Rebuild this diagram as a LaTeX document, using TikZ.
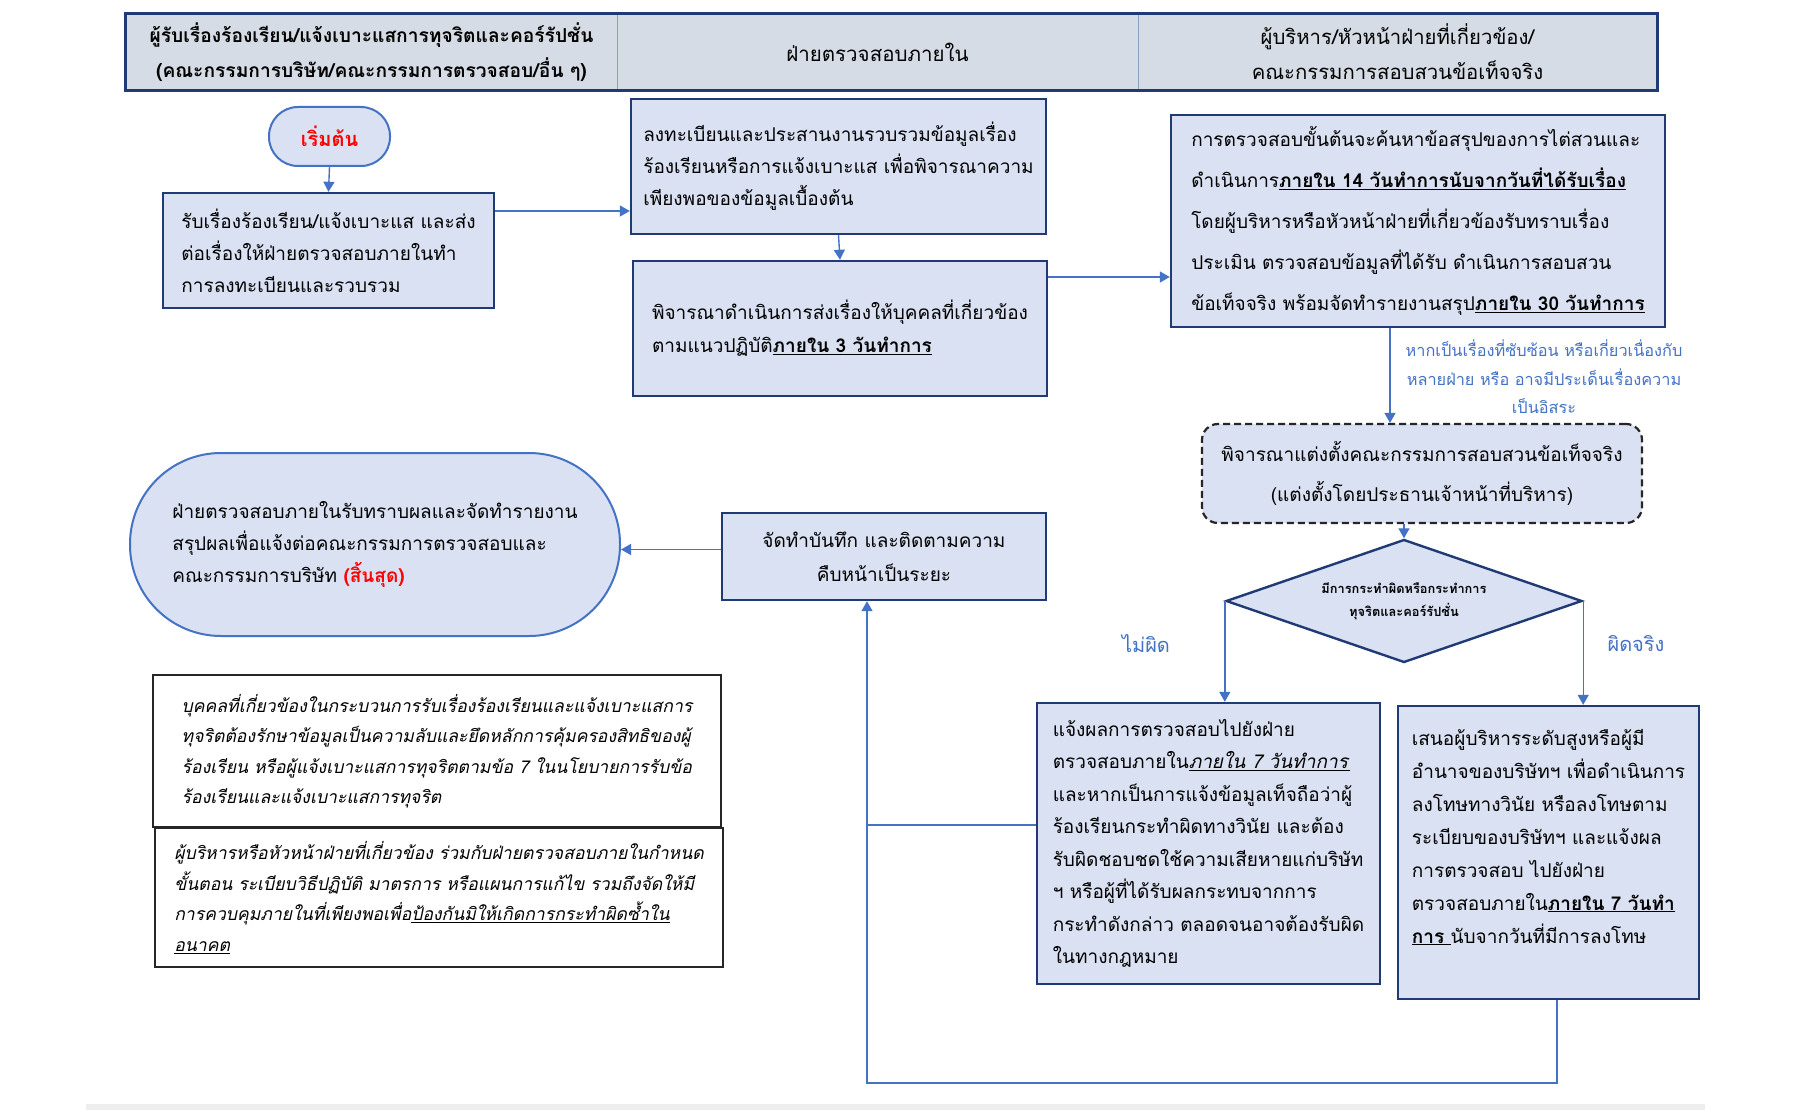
\documentclass[tikz,border=0pt]{standalone}
\usepackage{fontspec}
\setmainfont[Script=Thai]{Loma}
\usetikzlibrary{shapes.geometric,arrows.meta,calc}
\definecolor{navy}{HTML}{1F3A75}
\definecolor{boxfill}{HTML}{DAE1F2}
\definecolor{headfill}{HTML}{D6DCE5}
\definecolor{arrowblue}{HTML}{4472C4}
\definecolor{redtxt}{HTML}{FF0000}
\definecolor{divider}{HTML}{8EA0C0}
\definecolor{bandgray}{HTML}{EEEEEE}
\newcommand{\myul}[1]{\underline{#1}}
\begin{document}
\begin{tikzpicture}[x=1pt,y=-1pt,
  box/.style={draw=navy, line width=2.4pt, fill=boxfill, rectangle, inner sep=0pt, align=left},
  headcell/.style={draw=divider, line width=1pt, fill=headfill, inner sep=0pt, align=center, minimum height=76pt},
  pill/.style={draw=arrowblue, line width=2pt, fill=boxfill, inner sep=0pt},
  note/.style={draw=black!85, line width=1.8pt, fill=white, inner sep=0pt, align=left, font=\fontsize{17.6}{30.5}\selectfont\itshape},
  arr/.style={draw=arrowblue, line width=1.4pt, -{Triangle[width=11pt,length=10pt]}},
  conn/.style={draw=arrowblue, line width=1.4pt},
  bluelbl/.style={text=arrowblue, inner sep=0pt, align=center},
]
\fill[white] (0,0) rectangle (1800,1110);
\useasboundingbox (0,0) rectangle (1800,1110);
\fill[bandgray] (86,1104) rectangle (1705,1110);

% header
\node[headcell, minimum width=491pt, font=\fontsize{19.2}{35}\selectfont\bfseries] (h1) at (371.5,52) {ผู้รับเรื่องร้องเรียน/แจ้งเบาะแสการทุจริตและคอร์รัปชั่น\\(คณะกรรมการบริษัท/คณะกรรมการตรวจสอบ/อื่น ๆ)};
\node[headcell, minimum width=521pt, font=\fontsize{20.5}{35}\selectfont] (h2) at (877.5,52) {ฝ่ายตรวจสอบภายใน};
\node[headcell, minimum width=519pt, font=\fontsize{20.3}{35}\selectfont] (h3) at (1397.5,52) {ผู้บริหาร/หัวหน้าฝ่ายที่เกี่ยวข้อง/\\คณะกรรมการสอบสวนข้อเท็จจริง};
\draw[navy, line width=2.6pt] (h1.north west) rectangle (h3.south east);

% start
\node[pill, rounded corners=29pt, minimum width=121pt, minimum height=59pt, font=\fontsize{20}{24}\selectfont\bfseries, text=redtxt] (start) at (329.5,136.5) {เริ่มต้น};

\node[box, minimum width=331pt, minimum height=115pt, font=\fontsize{19}{32}\selectfont] (box1) at (328.5,250.5)
 {รับเรื่องร้องเรียน/แจ้งเบาะแส และส่ง\\ต่อเรื่องให้ฝ่ายตรวจสอบภายในทำ\\การลงทะเบียนและรวบรวม};

\node[box, minimum width=415pt, minimum height=135pt, font=\fontsize{19}{32}\selectfont] (box2) at (838.5,166.5)
 {ลงทะเบียนและประสานงานรวบรวมข้อมูลเรื่อง\\ร้องเรียนหรือการแจ้งเบาะแส เพื่อพิจารณาความ\\เพียงพอของข้อมูลเบื้องต้น};

\node[box, minimum width=414pt, minimum height=135pt, font=\fontsize{19}{33}\selectfont] (box3) at (840,328.5)
 {พิจารณาดำเนินการส่งเรื่องให้บุคคลที่เกี่ยวข้อง\\ตามแนวปฏิบัติ\myul{\textbf{ภายใน 3 วันทำการ}}};

\node[box, minimum width=494pt, minimum height=212pt, font=\fontsize{19}{41}\selectfont] (box4) at (1418,221)
 {การตรวจสอบขั้นต้นจะค้นหาข้อสรุปของการไต่สวนและ\\ดำเนินการ\myul{\textbf{ภายใน 14 วันทำการนับจากวันที่ได้รับเรื่อง}}\\โดยผู้บริหารหรือหัวหน้าฝ่ายที่เกี่ยวข้องรับทราบเรื่อง\\ประเมิน ตรวจสอบข้อมูลที่ได้รับ ดำเนินการสอบสวน\\ข้อเท็จจริง พร้อมจัดทำรายงานสรุป\myul{\textbf{ภายใน 30 วันทำการ}}};

\node[bluelbl, font=\fontsize{16.3}{28.5}\selectfont] (lbl1) at (1544,377)
 {หากเป็นเรื่องที่ซับซ้อน หรือเกี่ยวเนื่องกับ\\หลายฝ่าย หรือ อาจมีประเด็นเรื่องความ\\เป็นอิสระ};

\node[draw=black!85, line width=2.2pt, dash pattern=on 7pt off 4pt, rounded corners=16pt, fill=boxfill, inner sep=0pt, align=center, minimum width=440pt, minimum height=99pt, font=\fontsize{19}{40}\selectfont] (dash) at (1422,473.5)
 {พิจารณาแต่งตั้งคณะกรรมการสอบสวนข้อเท็จจริง\\(แต่งตั้งโดยประธานเจ้าหน้าที่บริหาร)};

\node[draw=navy, line width=2.4pt, fill=boxfill, diamond, aspect=2.9, inner sep=0pt, minimum width=356pt, minimum height=123pt, align=center, font=\fontsize{12.8}{23}\selectfont\bfseries] (dia) at (1404,601)
 {มีการกระทำผิดหรือกระทำการ\\ทุจริตและคอร์รัปชั่น};

\node[bluelbl, font=\fontsize{20}{24}\selectfont] (no) at (1146,644) {ไม่ผิด};
\node[bluelbl, font=\fontsize{20}{24}\selectfont] (yes) at (1636,644) {ผิดจริง};

\node[box, minimum width=343pt, minimum height=281pt, font=\fontsize{19}{32.5}\selectfont] (box5) at (1208.5,843.5)
 {แจ้งผลการตรวจสอบไปยังฝ่าย\\ตรวจสอบภายใน\myul{\textit{ภายใน 7 วันทำการ}}\\และหากเป็นการแจ้งข้อมูลเท็จถือว่าผู้\\ร้องเรียนกระทำผิดทางวินัย และต้อง\\รับผิดชอบชดใช้ความเสียหายแก่บริษัท\\ฯ หรือผู้ที่ได้รับผลกระทบจากการ\\กระทำดังกล่าว ตลอดจนอาจต้องรับผิด\\ในทางกฎหมาย};

\node[box, minimum width=301pt, minimum height=293pt, font=\fontsize{19}{33}\selectfont] (box6) at (1548.5,852.5)
 {เสนอผู้บริหารระดับสูงหรือผู้มี\\อำนาจของบริษัทฯ เพื่อดำเนินการ\\ลงโทษทางวินัย หรือลงโทษตาม\\ระเบียบของบริษัทฯ และแจ้งผล\\การตรวจสอบ ไปยังฝ่าย\\ตรวจสอบภายใน\myul{\textbf{ภายใน 7 วันทำ}}\\\myul{\textbf{การ }}นับจากวันที่มีการลงโทษ\\\mbox{}};

\node[box, align=center, minimum width=324pt, minimum height=87pt, font=\fontsize{19}{34}\selectfont] (memo) at (884,556.5)
 {จัดทำบันทึก และติดตามความ\\คืบหน้าเป็นระยะ};

\node[pill, rounded corners=91pt, align=left, minimum width=490pt, minimum height=183pt, font=\fontsize{19}{32}\selectfont] (end) at (375,544.5)
 {ฝ่ายตรวจสอบภายในรับทราบผลและจัดทำรายงาน\\สรุปผลเพื่อแจ้งต่อคณะกรรมการตรวจสอบและ\\คณะกรรมการบริษัท \textcolor{redtxt}{\textbf{(สิ้นสุด)}}};

\node[note, minimum width=568pt, minimum height=152pt] (noteA) at (437,751)
 {บุคคลที่เกี่ยวข้องในกระบวนการรับเรื่องร้องเรียนและแจ้งเบาะแสการ\\ทุจริตต้องรักษาข้อมูลเป็นความลับและยึดหลักการคุ้มครองสิทธิของผู้\\ร้องเรียน หรือผู้แจ้งเบาะแสการทุจริตตามข้อ 7 ในนโยบายการรับข้อ\\ร้องเรียนและแจ้งเบาะแสการทุจริต};

\node[note, minimum width=568pt, minimum height=139pt] (noteB) at (439,897.5)
 {ผู้บริหารหรือหัวหน้าฝ่ายที่เกี่ยวข้อง ร่วมกับฝ่ายตรวจสอบภายในกำหนด\\ขั้นตอน ระเบียบวิธีปฏิบัติ มาตรการ หรือแผนการแก้ไข รวมถึงจัดให้มี\\การควบคุมภายในที่เพียงพอเพื่อ\myul{ป้องกันมิให้เกิดการกระทำผิดซ้ำใน}\\\myul{อนาคต}};

% connectors
\draw[arr] (start.south) -- (box1.north);
\draw[arr] ([yshift=39.5pt]box1.east) -- ([yshift=39.5pt]box1.east -| box2.west);
\draw[arr] (box2.south) -- (box3.north);
\draw[arr] ([yshift=51.5pt]box3.east) -- ([yshift=51.5pt]box3.east -| box4.west);
\draw[arr] ([xshift=-28pt]box4.south) -- ([xshift=-28pt]box4.south |- dash.north);
\draw[arr] (dia.north |- dash.south) -- (dia.north);
\draw[arr] (dia.west) -- (dia.west |- box5.north);
\draw[arr] (dia.east) -- (dia.east |- box6.north);
\draw[arr] ([yshift=7pt]memo.west) -- ([yshift=7pt]memo.west -| end.east);
\coordinate (fbx) at (1557,1083);
\coordinate (fby) at (867,1083);
\coordinate (join) at (867,825);
\draw[arr] (fbx |- box6.south) -- (fbx) -- (fby) -- (fby |- memo.south);
\draw[conn] (join -| box5.west) -- (join);
\end{tikzpicture}
\end{document}
